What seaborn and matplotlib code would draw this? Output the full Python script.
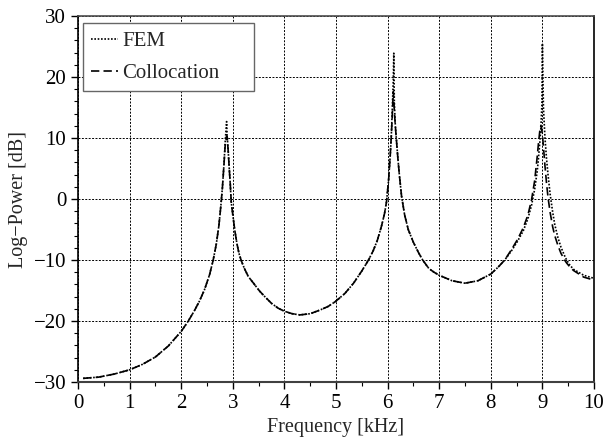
import matplotlib
matplotlib.use("Agg")
import matplotlib.pyplot as plt
import pandas as pd
import seaborn as sns
from matplotlib.ticker import MultipleLocator

# frequency samples [kHz], denser around the three resonances
freq = [0.1, 0.4, 0.7, 1.0, 1.25, 1.5, 1.75, 2.0, 2.13, 2.25,
        2.35, 2.45, 2.55, 2.62, 2.68, 2.73, 2.77, 2.8, 2.83, 2.85,
        2.87, 2.88, 2.89, 2.91, 2.93, 2.95, 2.97, 3.0, 3.04, 3.08,
        3.12, 3.16, 3.22, 3.3, 3.42, 3.52, 3.62, 3.75, 3.88, 4.0,
        4.15, 4.3, 4.5, 4.69, 4.85, 4.99, 5.17, 5.34, 5.5, 5.63,
        5.72, 5.8, 5.88, 5.94, 5.98, 6.02, 6.05, 6.07, 6.09, 6.11,
        6.12, 6.13, 6.15, 6.17, 6.2, 6.23, 6.27, 6.33, 6.4, 6.5,
        6.6, 6.68, 6.8, 6.9, 7.0, 7.25, 7.5, 7.75, 8.0, 8.15,
        8.27, 8.4, 8.52, 8.63, 8.72, 8.79, 8.85, 8.9, 8.92, 8.95,
        8.97, 8.99, 9.0, 9.02, 9.05, 9.08, 9.11, 9.15, 9.2, 9.24,
        9.3, 9.36, 9.43, 9.47, 9.52, 9.6, 9.8, 10.0]

colloc_db = [-29.4, -29.2, -28.7, -28.0, -27.1, -25.9, -24.1, -21.7, -20.1, -18.4,
             -16.8, -14.9, -12.4, -10.0, -7.4, -4.4, -1.0, 2.0, 5.8, 8.5,
             10.0, 10.3, 10.2, 8.0, 5.2, 2.6, -0.5, -2.6, -5.2, -7.3,
             -8.9, -10.0, -11.3, -12.7, -14.0, -15.1, -16.0, -17.1, -17.9, -18.4,
             -18.8, -19.0, -18.8, -18.2, -17.6, -16.8, -15.5, -13.8, -11.8, -10.0,
             -8.5, -6.8, -4.5, -2.4, -0.4, 3.2, 7.0, 10.0, 13.5, 17.6,
             16.5, 14.5, 12.0, 9.8, 6.6, 3.8, 0.5, -2.6, -5.0, -7.1,
             -8.8, -10.0, -11.4, -12.0, -12.5, -13.4, -13.8, -13.4, -12.3, -11.1,
             -10.0, -8.3, -6.6, -4.7, -2.6, -0.1, 3.0, 7.0, 8.8, 11.2,
             12.0, 11.2, 10.6, 8.6, 5.4, 2.6, 0.2, -2.2, -4.6, -6.0,
             -7.6, -8.9, -10.0, -10.5, -11.0, -11.7, -12.8, -13.3]

fem_db = [-29.4, -29.2, -28.7, -28.0, -27.1, -25.9, -24.1, -21.7, -20.1, -18.4,
          -16.8, -14.9, -12.4, -10.0, -7.4, -4.4, -1.0, 2.0, 5.8, 9.0,
          11.5, 12.7, 10.5, 8.1, 5.2, 2.6, -0.5, -2.6, -5.2, -7.3,
          -8.9, -10.0, -11.3, -12.7, -14.0, -15.1, -16.0, -17.1, -17.9, -18.4,
          -18.8, -19.0, -18.8, -18.2, -17.6, -16.8, -15.5, -13.8, -11.8, -10.0,
          -8.5, -6.8, -4.5, -2.4, -0.4, 3.2, 7.0, 10.0, 14.5, 19.5,
          23.9, 16.0, 12.0, 9.8, 6.6, 3.8, 0.5, -2.6, -5.0, -7.1,
          -8.8, -10.0, -11.4, -12.0, -12.5, -13.4, -13.8, -13.4, -12.3, -11.1,
          -10.0, -8.5, -6.9, -5.2, -3.2, -1.0, 1.6, 4.6, 6.3, 9.3,
          11.6, 15.5, 25.5, 15.0, 10.0, 6.6, 3.9, 0.8, -2.2, -4.2,
          -6.3, -7.9, -9.3, -10.0, -10.7, -11.5, -12.5, -13.0]

df = pd.concat([
    pd.DataFrame({"freq": freq, "power": fem_db, "method": "FEM"}),
    pd.DataFrame({"freq": freq, "power": colloc_db, "method": "Collocation"}),
])

sns.set_style("white")
plt.rcParams["font.family"] = ["Liberation Serif", "DejaVu Serif"]

fig = plt.figure(figsize=(6.06, 4.44), dpi=100)
ax = fig.add_axes([0.1287, 0.1396, 0.8515, 0.8243])

sns.lineplot(data=df, x="freq", y="power", style="method",
             style_order=["FEM", "Collocation"],
             dashes={"FEM": (1, 1), "Collocation": (5, 2.5)},
             color="black", lw=1.2, estimator=None, sort=False, ax=ax)

ax.set_xlim(0, 10)
ax.set_ylim(-30, 30)
ax.xaxis.set_major_locator(MultipleLocator(1))
ax.xaxis.set_minor_locator(MultipleLocator(0.5))
ax.yaxis.set_major_locator(MultipleLocator(10))
ax.yaxis.set_minor_locator(MultipleLocator(2))
ax.tick_params(which="both", direction="out", left=True, bottom=True,
               colors="black", labelsize=15)
ax.tick_params(which="major", length=5, width=1)
ax.tick_params(which="minor", length=3, width=0.8)
ax.grid(True, which="major", color="black", linestyle=(0, (2, 1.5)), lw=0.7)

for side in ["left", "right"]:
    ax.spines[side].set_color("black")
    ax.spines[side].set_linewidth(1.2)
ax.spines["bottom"].set_color("0.25")
ax.spines["bottom"].set_linewidth(1.5)
ax.spines["top"].set_color("0.3")
ax.spines["top"].set_linewidth(1.2)
ax.spines["top"].set_linestyle((0, (2, 1)))

ax.set_xlabel("Frequency [kHz]", fontsize=14.5)
ax.set_ylabel("Log\u2212Power [dB]", fontsize=14.5)

handles, labels = ax.get_legend_handles_labels()
leg = ax.legend(handles, labels, loc="upper left", mode="expand",
                bbox_to_anchor=(0.0097, 0.0, 0.331, 0.981), borderaxespad=0,
                fontsize=15, frameon=True, fancybox=False, edgecolor="0.4",
                framealpha=1, borderpad=0.4, handlelength=1.3,
                handletextpad=0.2, labelspacing=0.6)
leg.get_frame().set_linewidth(1.0)

fig.savefig("out.png", dpi=100)
